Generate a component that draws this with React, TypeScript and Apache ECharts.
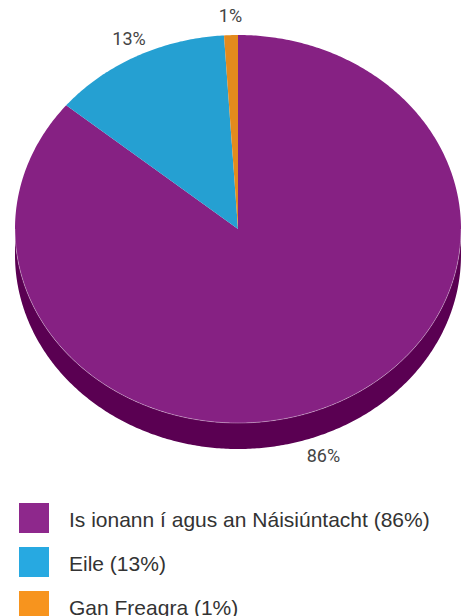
import React, { useEffect, useRef } from "react";
import * as echarts from "echarts";

const categories = ["Is ionann í agus an Náisiúntacht", "Eile", "Gan Freagra"];
const values = [86, 13, 1];
const topColors = ["#862183", "#25A0D2", "#E38A1D"];
const sideColors = ["#5A0052", "#176D91", "#9C5D10"];
const legendColors = ["#8E288C", "#27A9E1", "#F7941E"];

const CX = 238;
const CY = 229;
const RX = 223;
const RY = 194;
const DEPTH = 26;

const total = values.reduce((a, b) => a + b, 0);
const pct = (v: number) => Math.round((v / total) * 100) + "%";

function sliceAngles(i: number) {
  let before = 0;
  for (let k = 0; k < i; k++) before += values[k];
  const a0 = -Math.PI / 2 + (before / total) * Math.PI * 2;
  const a1 = -Math.PI / 2 + ((before + values[i]) / total) * Math.PI * 2;
  return [a0, a1];
}

function arc(a0: number, a1: number, dy: number) {
  const pts: number[][] = [];
  const n = Math.max(2, Math.ceil(Math.abs(a1 - a0) / 0.01));
  for (let s = 0; s <= n; s++) {
    const t = a0 + ((a1 - a0) * s) / n;
    pts.push([CX + RX * Math.cos(t), CY + RY * Math.sin(t) + dy]);
  }
  return pts;
}

export default function App() {
  const ref = useRef<HTMLDivElement>(null);
  useEffect(() => {
    document.body.style.margin = "0";
    const chart = echarts.init(ref.current!, null, { renderer: "svg" });
    const data = values.map((v, i) => ({ name: categories[i], value: v }));

    const sideRender = (params: any, api: any) => {
      const i = params.dataIndex;
      api.value(0);
      const [a0, a1] = sliceAngles(i);
      const lo = Math.max(a0, 0);
      const hi = Math.min(a1, Math.PI);
      if (lo >= hi) return { type: "group", children: [] };
      const pts = arc(lo, hi, 0).concat(arc(hi, lo, DEPTH));
      return {
        type: "polygon",
        shape: { points: pts },
        style: { fill: sideColors[i], stroke: null },
      };
    };

    const topRender = (params: any, api: any) => {
      const i = params.dataIndex;
      const v = api.value(0);
      const [a0, a1] = sliceAngles(i);
      const pts = [[CX, CY]].concat(arc(a0, a1, 0));
      const children: any[] = [
        {
          type: "polygon",
          shape: { points: pts },
          style: { fill: topColors[i], stroke: null },
        },
      ];
      const lo = Math.max(a0, 0);
      const hi = Math.min(a1, Math.PI);
      if (lo < hi) {
        children.push({
          type: "polyline",
          shape: { points: arc(lo, hi, 0) },
          style: { stroke: "rgba(255,255,255,0.4)", lineWidth: 0.8, fill: null },
        });
      }
      const m = (a0 + a1) / 2;
      const s = Math.sin(m);
      const c = Math.cos(m);
      const front = s > 0;
      children.push({
        type: "text",
        style: {
          text: pct(v),
          x: CX + (RX + 17) * c,
          y: CY + (RY + (front ? 28 : 20)) * s + (front ? DEPTH : 0),
          fill: "#444444",
          font: '18px Roboto, "Liberation Sans", sans-serif',
          align: front && c > 0 ? "right" : "center",
          verticalAlign: "middle",
        },
      });
      return { type: "group", children };
    };

    const legend = categories.map((c, i) => ({
      type: "group",
      x: 19,
      y: 503 + i * 44,
      children: [
        {
          type: "rect",
          shape: { x: 0, y: 0, width: 30, height: 30 },
          style: { fill: legendColors[i] },
        },
        {
          type: "text",
          style: {
            text: `${c} (${pct(values[i])})`,
            x: 50,
            y: 16,
            fill: "#333333",
            font: '21px "Liberation Sans", Arial, sans-serif',
            align: "left",
            verticalAlign: "middle",
            textAlign: "left",
            textVerticalAlign: "middle",
          },
        },
      ],
    }));

    chart.setOption({
      animation: false,
      backgroundColor: "#ffffff",
      series: [
        {
          type: "custom",
          coordinateSystem: "none",
          renderItem: sideRender,
          data,
          z: 1,
          silent: true,
        },
        {
          type: "custom",
          coordinateSystem: "none",
          renderItem: topRender,
          data,
          z: 2,
          silent: true,
        },
      ],
      graphic: legend,
    });
    return () => chart.dispose();
  }, []);
  return <div ref={ref} style={{ width: 461, height: 616 }} />;
}
